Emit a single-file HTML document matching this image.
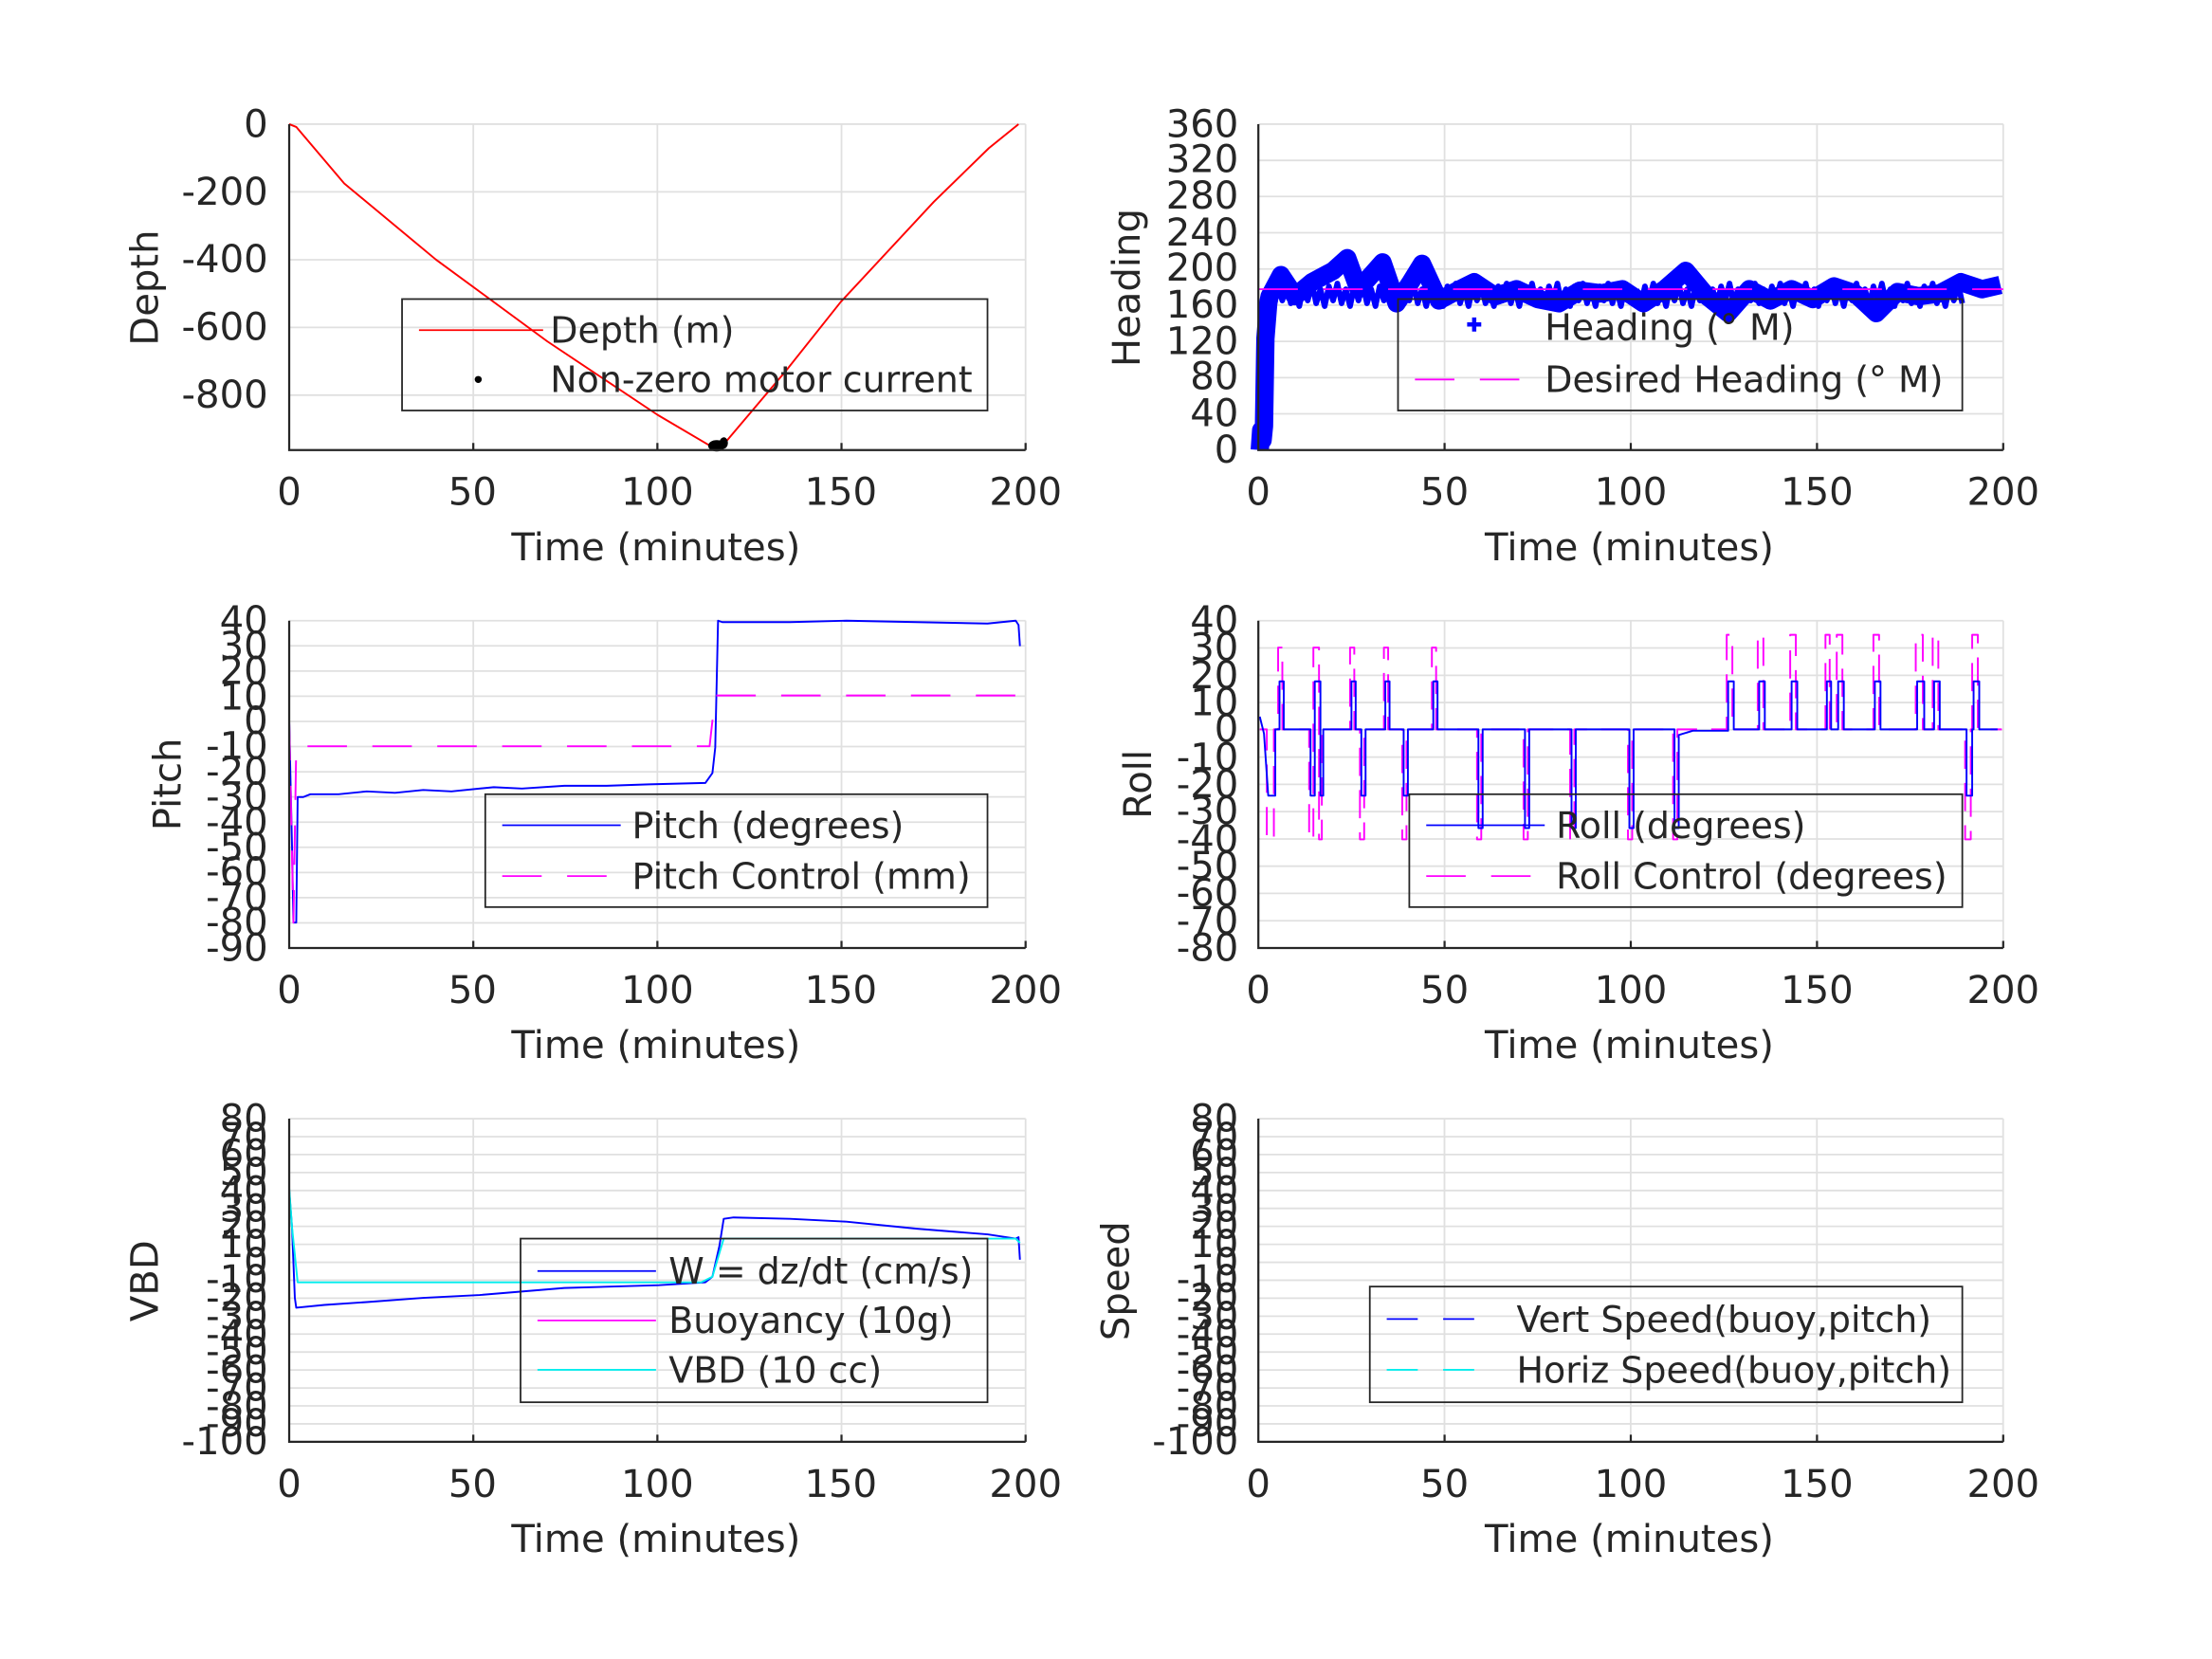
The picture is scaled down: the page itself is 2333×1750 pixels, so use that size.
<!DOCTYPE html>
<html><head><meta charset="utf-8"><style>
html,body{margin:0;padding:0;background:#fff}
svg{display:block}
text{font-family:"DejaVu Sans","Liberation Sans",sans-serif;fill:#262626}
.yl{font-size:27px;text-anchor:end}
.xl{font-size:27px;text-anchor:middle}
.lg{font-size:25.5px;fill:#000}
</style></head><body>
<svg width="2333" height="1750" viewBox="0 0 1568 1176" preserveAspectRatio="none" xmlns="http://www.w3.org/2000/svg">
<rect width="1568" height="1176" fill="#fff"/>
<g stroke="#e0e0e0" stroke-width="1.2" fill="none">
<path d="M205,88H727M205,136H727M205,184.1H727M205,232.1H727M205,280.1H727M335.5,88V319M466,88V319M596.5,88V319M727,88V319"/>
<path d="M892,88H1420M892,113.7H1420M892,139.3H1420M892,165H1420M892,190.7H1420M892,216.3H1420M892,242H1420M892,267.7H1420M892,293.3H1420M1024,88V319M1156,88V319M1288,88V319M1420,88V319"/>
<path d="M205,440H727M205,457.8H727M205,475.7H727M205,493.5H727M205,511.4H727M205,529.2H727M205,547.1H727M205,564.9H727M205,582.8H727M205,600.6H727M205,618.5H727M205,636.3H727M205,654.2H727M335.5,440V672M466,440V672M596.5,440V672M727,440V672"/>
<path d="M892,440H1420M892,459.3H1420M892,478.7H1420M892,498H1420M892,517.3H1420M892,536.7H1420M892,556H1420M892,575.3H1420M892,594.7H1420M892,614H1420M892,633.3H1420M892,652.7H1420M1024,440V672M1156,440V672M1288,440V672M1420,440V672"/>
<path id="vg" d="M205,793H727M205,805.7H727M205,818.4H727M205,831.2H727M205,843.9H727M205,856.6H727M205,869.3H727M205,882.1H727M205,894.8H727M205,907.5H727M205,920.2H727M205,933H727M205,945.7H727M205,958.4H727M205,971.1H727M205,983.9H727M205,996.6H727M205,1009.3H727M335.5,793V1022M466,793V1022M596.5,793V1022M727,793V1022"/>
<use href="#vg" transform="translate(687,0) scale(1.0115,1) translate(-2.4,0)"/>
</g>
<g fill="none" stroke-linejoin="round">
<path d="M205,88L210,90L244,130L309,184L388,242L466,294L505,317L513,315L557,263L596,214L662,143L701,105L722,88" stroke="#f00" stroke-width="1.3"/>
<ellipse cx="508" cy="316" rx="6" ry="4" fill="#000"/><ellipse cx="513" cy="314" rx="3" ry="4" fill="#000"/>
<path d="M893,319L894,305L895,312L896,302L897,240L899,215L900,210L908,195L918,210L930,200L945,192L955,183L963,205L972,195L980,186L990,215L1000,200L1008,187L1020,213L1035,205L1045,200L1060,210L1075,205L1090,212L1105,215L1120,206L1135,208L1150,205L1165,215L1180,205L1195,192L1210,210L1225,222L1240,205L1255,213L1270,205L1285,212L1300,203L1315,208L1330,222L1345,207L1360,210L1375,208L1390,200L1405,205L1418,202" stroke="#00f" stroke-width="13"/>
<path d="M900,205l3,12l3,-14l3,10l3,-12l3,14l3,-10l3,12l3,-14l3,10l3,-12l3,14l3,-10l3,12l3,-14l3,10l3,-12l3,14l3,-10l3,12l3,-14l3,10l3,-12l3,14l3,-10l3,12l3,-14l3,10l3,-12l3,14l3,-10l3,12l3,-14l3,10l3,-12l3,14l3,-10l3,12l3,-14l3,10" stroke="#00f" stroke-width="4"/>
<path d="M1020,205l3,12l3,-14l3,10l3,-12l3,14l3,-10l3,12l3,-14l3,10l3,-12l3,14l3,-10l3,12l3,-14l3,10l3,-12l3,14l3,-10l3,12l3,-14l3,10l3,-12l3,14l3,-10l3,12l3,-14l3,10l3,-12l3,14l3,-10l3,12l3,-14l3,10l3,-12l3,14l3,-10l3,12l3,-14l3,10l3,-12l3,14l3,-10l3,12l3,-14l3,10" stroke="#00f" stroke-width="4"/>
<path d="M1160,205l3,12l3,-14l3,10l3,-12l3,14l3,-10l3,12l3,-14l3,10l3,-12l3,14l3,-10l3,12l3,-14l3,10l3,-12l3,14l3,-10l3,12l3,-14l3,10l3,-12l3,14l3,-10l3,12l3,-14l3,10l3,-12l3,14l3,-10l3,12l3,-14l3,10l3,-12l3,14l3,-10l3,12l3,-14l3,10l3,-12l3,14l3,-10l3,12l3,-14l3,10l3,-12l3,14l3,-10l3,12l3,-14l3,10l3,-12l3,14l3,-10l3,12l3,-14l3,10l3,-12l3,14l3,-10l3,12l3,-14l3,10l3,-12l3,14l3,-10l3,12l3,-14l3,10l3,-12l3,14l3,-10l3,12l3,-14l3,10l3,-12l3,14" stroke="#00f" stroke-width="4"/>
<path d="M1045,225l0,10M1040,230l10,0M897,275l0,10M892,280l10,0" stroke="#00f" stroke-width="3"/>
<path d="M892,205H1420" stroke="#f0f" stroke-width="1.3" stroke-dasharray="28,18"/>
<path d="M205,511L207,600L208,654L210,654L211,565L215,565L220,563L240,563L260,561L280,562L300,560L320,561L350,558L370,559L400,557L430,557L460,556L500,555L505,548L507,530L509,440L512,441L560,441L600,440L650,441L700,442L720,440L722,443L723,458" stroke="#00f" stroke-width="1.3"/>
<path d="M205,511L208,654L210,529L503,529L507,493L727,493" stroke="#f0f" stroke-width="1.3" stroke-dasharray="28,18"/>
<path d="M893,517H898V595H903V517H906V459H909V517H928V595H931V459H935V595H937V517H957V459H960V517H964V595H967V517H981V459H984V517H994V595H997V517H1015V459H1018V517H1047V595H1050V517H1080V595H1083V517H1113V595H1116V517H1154V595H1157V517H1186V595H1189V517H1224V450H1228V517H1246V450H1250V517H1269V450H1273V517H1294V450H1297V517H1302V450H1306V517H1328V450H1332V517H1358V450H1363V517H1370V450H1374V517H1393V595H1397V517H1398V450H1402V517H1419" stroke="#f0f" stroke-width="1.3" stroke-dasharray="20,10"/>
<path d="M893,508L896,520L899,564H904V517H907V483H910V517H929V564H932V483H936V564H938V517H958V483H961V517H965V564H968V517H982V483H985V517H995V564H998V517H1016V483H1019V517H1048V587H1051V517H1081V587H1084V517H1114V587H1117V517H1155V587H1158V517H1187V587H1190V521L1200,518H1225V483H1229V517H1247V483H1251V517H1270V483H1274V517H1295V483H1298V517H1303V483H1307V517H1329V483H1333V517H1359V483H1364V517H1371V483H1375V517H1394V564H1398V517H1399V483H1403V517H1416" stroke="#00f" stroke-width="1.3"/>
<path d="M205,844L207,870L209,920L210,927L230,925L260,923L300,920L340,918L400,913L467,911L500,909L505,905L510,883L513,864L520,863L560,864L600,866L650,871L700,875L720,878L722,877L723,893" stroke="#00f" stroke-width="1.3"/>
<path d="M205,842L207,870L211,909L497,909L505,905L513,878L720,878L723,881" stroke="#0ee" stroke-width="1.3"/>
</g>
<g stroke="#262626" stroke-width="1.5" fill="none">
<path d="M205,88V319H727M335.5,319v-5M466,319v-5M596.5,319v-5M727,319v-5"/>
<path d="M892,88V319H1420M1024,319v-5M1156,319v-5M1288,319v-5M1420,319v-5"/>
<path d="M205,440V672H727M335.5,672v-5M466,672v-5M596.5,672v-5M727,672v-5"/>
<path d="M892,440V672H1420M1024,672v-5M1156,672v-5M1288,672v-5M1420,672v-5"/>
<path d="M205,793V1022H727M335.5,1022v-5M466,1022v-5M596.5,1022v-5M727,1022v-5"/>
<path d="M892,793V1022H1420M1024,1022v-5M1156,1022v-5M1288,1022v-5M1420,1022v-5"/>
</g>
<g fill="none" stroke="#262626" stroke-width="1.2">
<rect x="285" y="212" width="415" height="79"/>
<rect x="991" y="212" width="400" height="79"/>
<rect x="344" y="563" width="356" height="80"/>
<rect x="999" y="563" width="392" height="80"/>
<rect x="369" y="878" width="331" height="116"/>
<rect x="971" y="912" width="420" height="82"/>
<line x1="297" y1="234" x2="385" y2="234" stroke="#f00"/>
<circle cx="339" cy="269" r="2.5" fill="#000" stroke="none"/>
<line x1="1003" y1="269" x2="1077" y2="269" stroke="#f0f" stroke-dasharray="28,18"/>
<line x1="356" y1="585" x2="440" y2="585" stroke="#00f"/>
<line x1="356" y1="621" x2="440" y2="621" stroke="#f0f" stroke-dasharray="28,18"/>
<line x1="1011" y1="585" x2="1095" y2="585" stroke="#00f"/>
<line x1="1011" y1="621" x2="1095" y2="621" stroke="#f0f" stroke-dasharray="28,18"/>
<line x1="381" y1="901" x2="465" y2="901" stroke="#00f"/>
<line x1="381" y1="936" x2="465" y2="936" stroke="#f0f"/>
<line x1="381" y1="971" x2="465" y2="971" stroke="#0ee"/>
<line x1="983" y1="935" x2="1057" y2="935" stroke="#00f" stroke-dasharray="22,18"/>
<line x1="983" y1="971" x2="1057" y2="971" stroke="#0ee" stroke-dasharray="22,18"/>
</g>
<g class="lg">
<text x="390" y="243">Depth (m)</text>
<text x="390" y="278">Non-zero motor current</text>
<text x="1095" y="241">Heading (° M)</text>
<text x="1095" y="278">Desired Heading (° M)</text>
<text x="448" y="594">Pitch (degrees)</text>
<text x="448" y="630">Pitch Control (mm)</text>
<text x="1103" y="594">Roll (degrees)</text>
<text x="1103" y="630">Roll Control (degrees)</text>
<text x="474" y="910">W = dz/dt (cm/s)</text>
<text x="474" y="945">Buoyancy (10g)</text>
<text x="474" y="980">VBD (10 cc)</text>
<text x="1075" y="944">Vert Speed(buoy,pitch)</text>
<text x="1075" y="980">Horiz Speed(buoy,pitch)</text>
</g>
<g class="xl">
<text x="205" y="358">0</text><text x="335" y="358">50</text><text x="466" y="358">100</text><text x="596" y="358">150</text><text x="727" y="358">200</text>
<text x="892" y="358">0</text><text x="1024" y="358">50</text><text x="1156" y="358">100</text><text x="1288" y="358">150</text><text x="1420" y="358">200</text>
<text x="205" y="711">0</text><text x="335" y="711">50</text><text x="466" y="711">100</text><text x="596" y="711">150</text><text x="727" y="711">200</text>
<text x="892" y="711">0</text><text x="1024" y="711">50</text><text x="1156" y="711">100</text><text x="1288" y="711">150</text><text x="1420" y="711">200</text>
<text x="205" y="1061">0</text><text x="335" y="1061">50</text><text x="466" y="1061">100</text><text x="596" y="1061">150</text><text x="727" y="1061">200</text>
<text x="892" y="1061">0</text><text x="1024" y="1061">50</text><text x="1156" y="1061">100</text><text x="1288" y="1061">150</text><text x="1420" y="1061">200</text>
<text x="465" y="397">Time (minutes)</text><text x="1155" y="397">Time (minutes)</text>
<text x="465" y="750">Time (minutes)</text><text x="1155" y="750">Time (minutes)</text>
<text x="465" y="1100">Time (minutes)</text><text x="1155" y="1100">Time (minutes)</text>
<text transform="translate(112,204) rotate(-90)">Depth</text>
<text transform="translate(808,204) rotate(-90)">Heading</text>
<text transform="translate(128,556) rotate(-90)">Pitch</text>
<text transform="translate(816,556) rotate(-90)">Roll</text>
<text transform="translate(112,908) rotate(-90)">VBD</text>
<text transform="translate(800,908) rotate(-90)">Speed</text>
</g>
<g class="yl">
<text x="190" y="97">0</text><text x="190" y="145">-200</text><text x="190" y="193">-400</text><text x="190" y="241">-600</text><text x="190" y="289">-800</text>
<text x="878" y="97">360</text><text x="878" y="122">320</text><text x="878" y="148">280</text><text x="878" y="174">240</text><text x="878" y="199">200</text><text x="878" y="225">160</text><text x="878" y="251">120</text><text x="878" y="276">80</text><text x="878" y="302">40</text><text x="878" y="328">0</text>
<text x="190" y="449">40</text><text x="190" y="467">30</text><text x="190" y="485">20</text><text x="190" y="503">10</text><text x="190" y="520">0</text><text x="190" y="538">-10</text><text x="190" y="556">-20</text><text x="190" y="574">-30</text><text x="190" y="592">-40</text><text x="190" y="610">-50</text><text x="190" y="627">-60</text><text x="190" y="645">-70</text><text x="190" y="663">-80</text><text x="190" y="681">-90</text>
<text x="878" y="449">40</text><text x="878" y="468">30</text><text x="878" y="488">20</text><text x="878" y="507">10</text><text x="878" y="526">0</text><text x="878" y="546">-10</text><text x="878" y="565">-20</text><text x="878" y="584">-30</text><text x="878" y="604">-40</text><text x="878" y="623">-50</text><text x="878" y="642">-60</text><text x="878" y="662">-70</text><text x="878" y="681">-80</text>
<text x="190" y="802">80</text><text x="190" y="815">70</text><text x="190" y="827">60</text><text x="190" y="840">50</text><text x="190" y="853">40</text><text x="190" y="866">30</text><text x="190" y="878">20</text><text x="190" y="891">10</text><text x="190" y="904">0</text><text x="190" y="916">-10</text><text x="190" y="929">-20</text><text x="190" y="942">-30</text><text x="190" y="955">-40</text><text x="190" y="967">-50</text><text x="190" y="980">-60</text><text x="190" y="993">-70</text><text x="190" y="1006">-80</text><text x="190" y="1018">-90</text><text x="190" y="1031">-100</text>
<text x="878" y="802">80</text><text x="878" y="815">70</text><text x="878" y="827">60</text><text x="878" y="840">50</text><text x="878" y="853">40</text><text x="878" y="866">30</text><text x="878" y="878">20</text><text x="878" y="891">10</text><text x="878" y="904">0</text><text x="878" y="916">-10</text><text x="878" y="929">-20</text><text x="878" y="942">-30</text><text x="878" y="955">-40</text><text x="878" y="967">-50</text><text x="878" y="980">-60</text><text x="878" y="993">-70</text><text x="878" y="1006">-80</text><text x="878" y="1018">-90</text><text x="878" y="1031">-100</text>
</g>
</svg>
</body></html>
